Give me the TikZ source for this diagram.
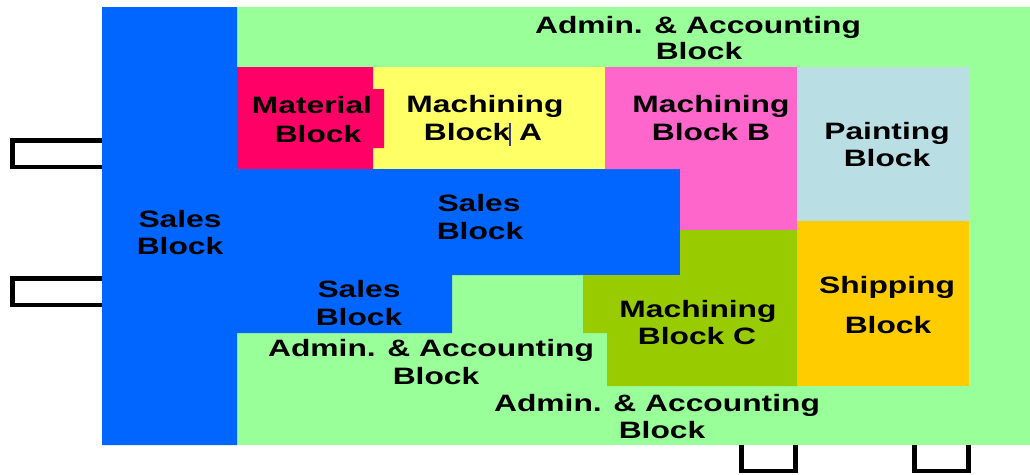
\documentclass[tikz,border=0pt]{standalone}
\usepackage{fontspec}
\newfontfamily\lblfont{Liberation Sans}[FakeStretch=1.34]
\definecolor{admgreen}{RGB}{153,255,153}
\definecolor{salesblue}{RGB}{0,102,255}
\definecolor{matred}{RGB}{255,0,102}
\definecolor{machyellow}{RGB}{255,255,102}
\definecolor{machpink}{RGB}{255,102,204}
\definecolor{paintblue}{RGB}{185,222,227}
\definecolor{shiporange}{RGB}{255,204,0}
\definecolor{macholive}{RGB}{153,204,0}
\definecolor{caretcol}{RGB}{60,60,130}
\begin{document}
\begin{tikzpicture}[x=1pt,y=-1pt,
  lbl/.style={font=\lblfont\bfseries\fontsize{23.7}{26}\selectfont,text=black,inner sep=0pt,anchor=base},
  port/.style={draw=black,line width=4.5pt,fill=white},
  zone/.style={draw=none}]
\useasboundingbox (0,0) rectangle (1030,474);
% ports (drawn first, partly hidden by the blocks)
\draw[port] (12.25,140.25) rectangle (110,166.75);
\draw[port] (12.25,278.25) rectangle (110,304.75);
\draw[port] (741.5,430) rectangle (795.5,470.75);
\draw[port] (914.5,430) rectangle (968.5,470.75);
% admin background
\fill[admgreen] (103,7) rectangle (1030,445);
% sales block
\fill[salesblue] (102,7) -- (237,7) -- (237,169) -- (680,169) -- (680,275) -- (452,275)
  -- (452,333) -- (237,333) -- (237,445) -- (102,445) -- cycle;
% machining A
\fill[machyellow] (373,67) rectangle (605,169);
% material
\fill[matred] (237,67) -- (373,67) -- (373,89) -- (384,89) -- (384,148) -- (373,148)
  -- (373,169) -- (237,169) -- cycle;
% machining B
\fill[machpink] (605,67) -- (797,67) -- (797,230) -- (680,230) -- (680,169) -- (605,169) -- cycle;
% painting
\fill[paintblue] (797,67) rectangle (969,221);
% shipping
\fill[shiporange] (797,221) rectangle (969,386);
% machining C
\fill[macholive] (583,275) -- (583,333) -- (607,333) -- (607,386) -- (797,386) -- (797,230)
  -- (680,230) -- (680,275) -- cycle;
% labels
\node[lbl] (adm1a) at (698,33) {Admin. \& Accounting};
\node[lbl] (adm1b) at (699,59) {Block};
\node[lbl] (mata) at (312,113) {Material};
\node[lbl] (matb) at (318,142) {Block};
\node[lbl] (maca) at (485,112) {Machining};
\node[lbl] (macb) at (483,140) {Block A};
\node[lbl] (mbca) at (711,112) {Machining};
\node[lbl] (mbcb) at (711,140) {Block B};
\node[lbl] (pnta) at (887,139) {Painting};
\node[lbl] (pntb) at (887,166) {Block};
\node[lbl] (sl1a) at (180,227) {Sales};
\node[lbl] (sl1b) at (180,254) {Block};
\node[lbl] (sl2a) at (479,211) {Sales};
\node[lbl] (sl2b) at (480,239) {Block};
\node[lbl] (sl3a) at (359,297) {Sales};
\node[lbl] (sl3b) at (359,325) {Block};
\node[lbl] (adm2a) at (431,356) {Admin. \& Accounting};
\node[lbl] (adm2b) at (436,384) {Block};
\node[lbl] (mcca) at (698,317) {Machining};
\node[lbl] (mccb) at (697,344) {Block C};
\node[lbl] (shpa) at (887,293) {Shipping};
\node[lbl] (shpb) at (888,333) {Block};
\node[lbl] (adm3a) at (657,411) {Admin. \& Accounting};
\node[lbl] (adm3b) at (662,438) {Block};
% text caret
\draw[caretcol,line width=1.3pt] (510,123) -- (510,146);
\end{tikzpicture}
\end{document}
